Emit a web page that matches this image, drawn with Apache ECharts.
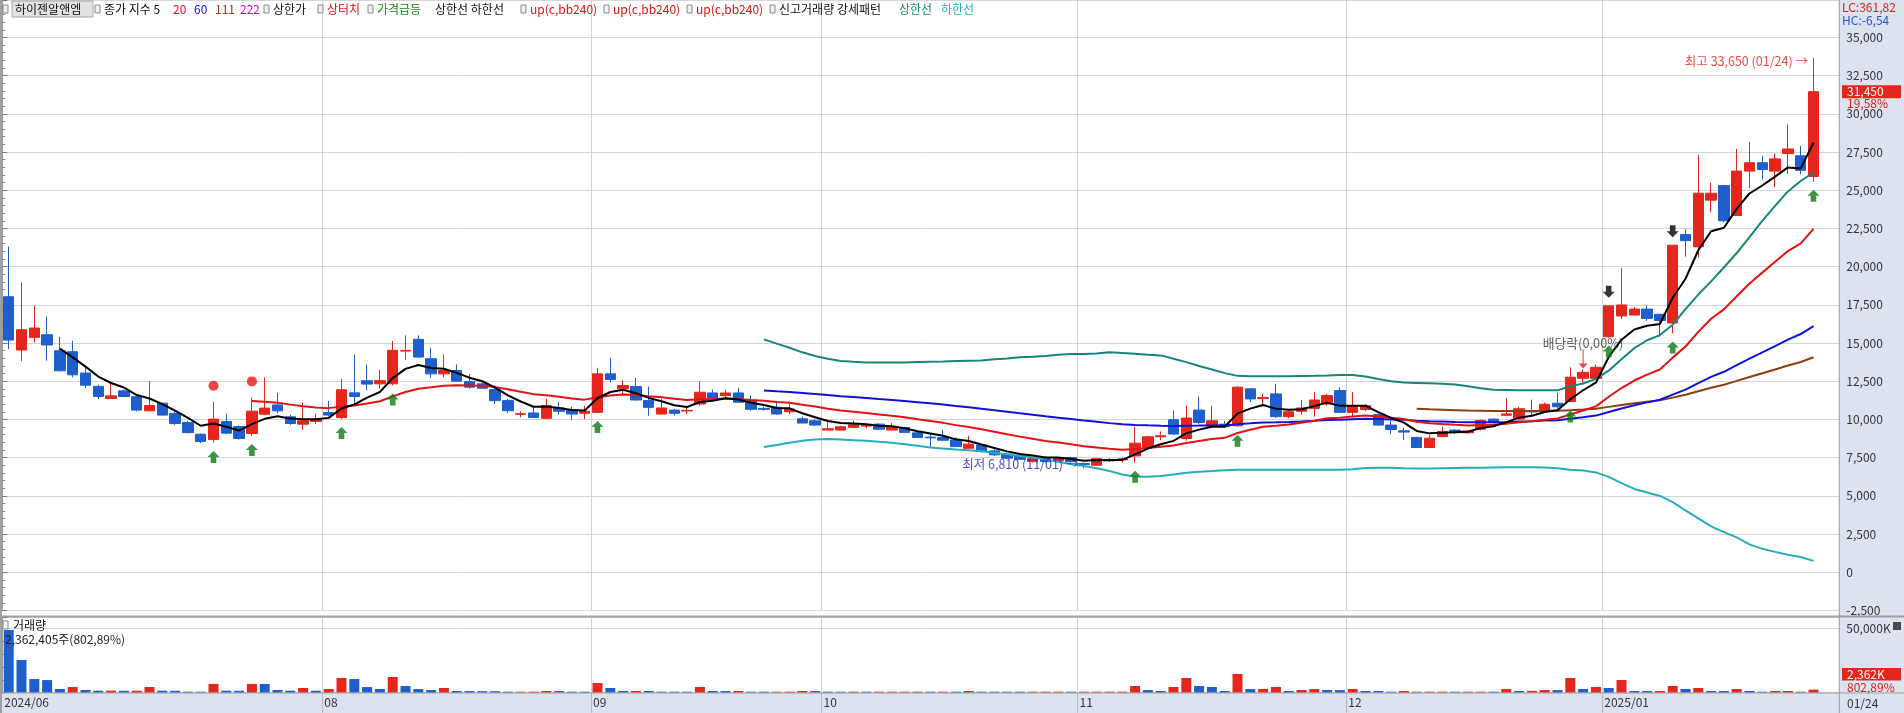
<!DOCTYPE html>
<html><head><meta charset="utf-8">
<script src="https://cdn.jsdelivr.net/npm/echarts@6/dist/echarts.min.js"></script>
<style>html,body{margin:0;padding:0;background:#fff;}#c{width:1904px;height:713px;}</style>
</head><body><div id="c"></div>
<script>
// ---------------- DATA ----------------
const stockName = '하이젠알앤엠';
const tradingDays = {
  '2024/06': [27,28],
  '2024/07': [1,2,3,4,5,8,9,10,11,12,15,16,17,18,19,22,23,24,25,26,29,30,31],
  '2024/08': [1,2,5,6,7,8,9,12,13,14,16,19,20,21,22,23,26,27,28,29,30],
  '2024/09': [2,3,4,5,6,9,10,11,12,13,19,20,23,24,25,26,27,30],
  '2024/10': [2,4,7,8,10,11,14,15,16,17,18,21,22,23,24,25,28,29,30,31],
  '2024/11': [1,4,5,6,7,8,11,12,13,14,15,18,19,20,21,22,25,26,27,28,29],
  '2024/12': [2,3,4,5,6,9,10,11,12,13,16,17,18,19,20,23,24,26,27,30],
  '2025/01': [2,3,6,7,8,9,10,13,14,15,16,17,20,21,22,23,24]
};
const monthLabels = {'2024/06':'2024/06','2024/08':'08','2024/09':'09','2024/10':'10','2024/11':'11','2024/12':'12','2025/01':'2025/01'};
const monthLines = ['2024/08','2024/09','2024/10','2024/11','2024/12','2025/01'];

const opens = [18030,14540,15370,15540,14490,14430,13030,12160,11370,11870,
 11480,10560,11060,10390,9800,9030,8680,9860,9530,9080,
 10340,10950,10170,9690,9860,10450,10120,11740,12530,12330,
 12330,14470,15240,13970,12980,13200,12480,12330,11950,11230,
 10330,10420,10070,10750,10640,10400,10460,12980,12000,12150,
 11230,10350,10610,10550,11010,11730,11560,11730,11250,10720,
 10790,10500,10040,9910,9300,9300,9470,9560,9690,9300,
 9470,9120,8840,8820,8660,8110,8330,7940,7720,7610,
 7240,7500,7280,7500,7110,7000,7370,7350,7610,8160,
 8860,9980,8750,10610,9540,9690,9580,12000,11360,11670,
 10180,10530,10720,11010,11890,10460,10640,10310,9630,9250,
 8820,8160,8880,9300,9120,9360,10020,10270,10020,10580,
 10540,11060,11170,12690,12690,15410,16770,16830,17220,16880,
 16310,22100,21300,24350,25300,23350,26250,26800,26250,27400,
 27250,25900];
const closes = [15190,15870,15980,14870,13180,12920,12240,11500,11540,11500,
 10610,10910,10280,9730,9140,8550,10020,9100,8750,10540,
 10740,10560,9730,9910,10020,10280,11940,11500,12310,12540,
 14520,14520,14080,12980,13200,12500,12110,12040,11230,10570,
 10370,10130,10900,10530,10350,10530,12980,12610,12220,11270,
 10790,10750,10400,10590,11780,11380,11730,11120,10660,10660,
 10350,10680,9760,9630,9390,9520,9650,9610,9360,9520,
 9150,8820,8790,8640,8220,8380,7900,7680,7460,7390,
 7430,7240,7500,7240,7040,7430,7300,7410,8440,8860,
 8930,9040,10090,9800,9910,9520,12110,11340,11430,10180,
 10500,10750,11270,11560,10460,10900,10900,9630,9340,9170,
 8160,8770,9210,9210,9250,9930,9790,10360,10700,10490,
 10990,10830,12760,13080,13410,17430,17490,17220,16610,16470,
 21400,21700,24800,24800,23000,26250,26800,26350,27050,27700,
 26300,31450];
const lows = [14600,13820,15040,13840,13140,12750,12050,11330,11370,11460,
 10520,10540,10280,9640,9080,8460,8460,9030,8680,8920,
 10280,10390,9640,9320,9690,10210,10020,11000,11920,12000,
 12220,13900,14040,12720,12760,12500,12000,12000,11010,10400,
 10130,10130,10020,10310,9980,10020,10420,12430,11560,11230,
 10240,10310,10260,10350,10900,11230,11340,11120,10570,10570,
 10310,10350,9760,9580,9300,9300,9470,9430,9320,9300,
 9120,8820,8160,8600,8200,8110,7830,7610,7430,7370,
 7170,7170,7240,7170,6810,6970,7240,7170,7170,8110,
 8640,8970,8600,9690,9470,9470,9520,11120,11010,10090,
 10070,10310,10180,10900,10460,10130,10530,9580,9040,8640,
 8160,8160,8860,9040,9080,9270,9750,10200,9970,10200,
 10430,10700,11110,12350,12620,15360,16580,16810,16450,15410,
 15630,20650,20600,23550,22900,23300,25150,25700,25200,26050,
 26050,25550];
const highs = [21310,18950,17440,16720,15410,15150,13400,12270,12350,11960,
 11610,12530,11100,10610,9910,9080,11150,10390,9620,11440,
 12750,11740,10300,11110,10390,11220,12660,14230,13580,13250,
 15130,15500,15500,14690,14250,13600,12980,12430,12220,11340,
 10530,10830,11340,11140,10830,10900,13380,14040,12540,12720,
 12150,11340,10680,10830,12500,11950,11950,12060,11560,10830,
 11160,11160,10180,10020,9910,9580,9910,9690,9740,9760,
 9520,9250,9100,9320,8820,8930,8380,8050,7830,7680,
 7500,7570,7540,7540,7170,7460,7460,7500,9520,8930,
 9210,10570,10900,11490,10900,9910,12170,12040,11670,12330,
 10570,11270,11780,11670,12110,11780,11010,10400,9910,9470,
 8860,8970,9520,9360,9300,9980,10050,11380,10830,11290,
 11110,11740,13410,13260,13600,17430,19890,17350,17440,16880,
 21400,22450,27300,25500,25350,27700,28150,27250,27400,29300,
 27900,33650];
// volume in thousand shares
const volumes = [48700,25400,10600,9800,2850,4400,2070,1550,1600,1500,
 1550,4400,1550,1500,520,500,6740,1550,1500,6800,
 6740,2070,1550,3630,1550,2850,11400,10600,4400,2850,
 12200,5180,2850,2070,3630,1300,1250,1200,1150,500,
 520,560,1300,1250,600,500,7500,3630,1300,1350,
 1300,600,550,500,4400,1300,1250,1300,600,550,
 600,650,1300,1250,600,550,600,550,600,650,
 700,750,600,650,600,1300,600,580,560,540,
 600,650,700,600,650,700,750,800,5180,2070,
 1300,4400,11400,5180,4400,1300,14500,2850,2900,4400,
 1300,2070,2850,2070,2000,2850,1300,1290,520,1300,
 520,600,650,520,600,650,520,2850,1300,1400,
 2070,2000,11400,2850,4400,3630,9850,1300,1250,1350,
 5180,2850,3630,1300,1250,2850,1300,520,1300,1350,
 294.236,2362.405];
// band lines (상한선 / 하한선), values from bar 59 onward
const bandStartIndex = 59;
const upperBandVals = [15240,14960,14690,14390,14150,13970,13820,13770,13730,13730,
 13730,13730,13750,13770,13790,13820,13840,13860,13930,13990,
 14060,14100,14150,14230,14280,14280,14320,14390,14350,14300,
 14230,14190,13970,13750,13490,13270,13030,12850,12830,12830,
 12830,12830,12840,12850,12870,12900,12900,12810,12650,12500,
 12410,12390,12370,12330,12280,12170,12040,11940,11920,11900,
 11900,11900,11900,12170,12350,12650,13190,13940,14660,15180,
 15520,16200,17220,18170,19030,19940,20890,21930,22990,23970,
 24920,25600,26160];
const lowerBandVals = [8200,8330,8470,8600,8680,8710,8680,8640,8600,8530,
 8470,8380,8270,8160,8090,8030,7980,7920,7810,7720,
 7610,7500,7370,7220,7060,6950,6800,6620,6400,6270,
 6250,6290,6400,6510,6580,6620,6670,6710,6710,6710,
 6710,6710,6710,6710,6710,6710,6730,6820,6840,6840,
 6800,6780,6780,6800,6820,6840,6830,6850,6870,6870,
 6870,6850,6800,6710,6650,6530,6240,5830,5450,5220,
 4990,4590,4040,3520,3000,2620,2280,1820,1530,1330,
 1140,990,740];
const maPeriods = [5, 20, 60, 111];
const priceSurgeIdx = [16,19,26,30,46,88,96,122,125,130,141];   // 가격급등 (green up arrows)
const upperTouchIdx = [16,19];                                    // 상터치 (red dots)
const limitUpIdx = [125,130];                                     // 상한가 (black arrows)
const exDividendIdx = [123];                                      // 배당락
const yTicksMain = {min:-2500, step:2500, maxLabel:35000};

// ---------------- BUILD ----------------
const dates = [];
Object.entries(tradingDays).forEach(([ym, ds]) => ds.forEach(d => dates.push(ym + '/' + String(d).padStart(2,'0'))));
const edgeCats = dates.concat(['']);
const labelAt = {};
const lineIdx = new Set();
Object.keys(monthLabels).forEach(m => { const i = dates.findIndex(d => d.startsWith(m)); labelAt[i] = monthLabels[m]; });
monthLines.forEach(m => lineIdx.add(dates.findIndex(d => d.startsWith(m))));

const ohlc = dates.map((_, i) => [opens[i], closes[i], lows[i], highs[i]]);
function ema(vals, n) {
  const a = 2 / (n + 1); let e = vals[0];
  return vals.map((v, i) => { if (i > 0) e = e + a * (v - e); return i >= n - 1 ? +e.toFixed(1) : null; });
}
const maLines = maPeriods.map(p => ema(closes, p));
const pad = Array(bandStartIndex).fill(null);
const upperBand = pad.concat(upperBandVals);
const lowerBand = pad.concat(lowerBandVals);

const FONT = '"Noto Sans CJK KR","Noto Sans",sans-serif';
const UP = '#e4261c', DOWN = '#1d5fcc';
const fmt = v => Math.round(v).toLocaleString('en-US');
const fmtDec = v => v.toFixed(2).replace('.', ',');

const maxHigh = Math.max(...highs), maxIdx = highs.indexOf(maxHigh);
const minLow = Math.min(...lows), minIdx = lows.indexOf(minLow);
const md = i => dates[i].slice(5);

const chart = echarts.init(document.getElementById('c'));
const option = {
  animation: false,
  backgroundColor: '#ffffff',
  grid: [
    {left: 2.3, top: 0, width: 1817.6, height: 610.4},
    {left: 2.3, top: 617, width: 1817.6, height: 75.7},
    {left: 2.3, top: 0, width: 1837, height: 610.4},
    {left: 2.3, top: 617, width: 1837, height: 75.7}
  ],
  xAxis: [
    {type: 'category', gridIndex: 0, data: dates, boundaryGap: true, show: false},
    {type: 'category', gridIndex: 0, data: edgeCats, boundaryGap: false,
      axisLine: {show: false}, axisTick: {show: false}, axisLabel: {show: false},
      splitLine: {show: true, interval: i => lineIdx.has(i), lineStyle: {color: '#d0d0d0', width: 1}}},
    {type: 'category', gridIndex: 1, data: dates, boundaryGap: true, show: false},
    {type: 'category', gridIndex: 1, data: edgeCats, boundaryGap: false, position: 'bottom',
      axisLine: {show: false},
      axisTick: {show: true, interval: i => lineIdx.has(i), length: 20, lineStyle: {color: '#b8b8b8'}},
      axisLabel: {interval: i => labelAt[i] !== undefined, formatter: (v, i) => labelAt[i] || '',
        align: 'left', padding: [0, 0, 0, 2], margin: 4, color: '#333', fontSize: 12, fontFamily: FONT},
      splitLine: {show: true, interval: i => lineIdx.has(i), lineStyle: {color: '#d0d0d0', width: 1}}},
    {type: 'value', gridIndex: 2, min: 0, max: 1, show: false},
    {type: 'value', gridIndex: 3, min: 0, max: 1, show: false}
  ],
  yAxis: [
    {type: 'value', gridIndex: 0, min: -2500, max: 37448, show: false},
    {type: 'value', gridIndex: 1, min: 0, max: 58773, show: false},
    {type: 'value', gridIndex: 2, position: 'right', min: yTicksMain.min, max: 37448, interval: yTicksMain.step,
      axisLine: {show: true, lineStyle: {color: '#9c9c9c'}},
      axisTick: {show: true, length: 5, lineStyle: {color: '#777'}},
      minorTick: {show: true, splitNumber: 5, length: 3, lineStyle: {color: '#888'}},
      axisLabel: {margin: 7, color: '#333', fontSize: 12, fontFamily: FONT,
        formatter: v => (v % 2500 === 0 && v <= yTicksMain.maxLabel) ? fmt(v) : ''},
      splitLine: {show: true, lineStyle: {color: '#d6d6d6', width: 1}}},
    {type: 'value', gridIndex: 3, position: 'right', min: 0, max: 58773, interval: 50000,
      axisLine: {show: true, lineStyle: {color: '#9c9c9c'}},
      axisTick: {show: true, length: 5, lineStyle: {color: '#777'}},
      minorTick: {show: true, splitNumber: 5, length: 3, lineStyle: {color: '#888'}},
      axisLabel: {margin: 7, color: '#333', fontSize: 12, fontFamily: FONT,
        formatter: v => v === 50000 ? '50,000K' : ''},
      splitLine: {show: true, lineStyle: {color: '#d6d6d6', width: 1}}}
  ],
  series: [
    {type: 'candlestick', xAxisIndex: 0, yAxisIndex: 0, data: ohlc, barWidth: 11,
      itemStyle: {color: UP, color0: DOWN, borderColor: UP, borderColor0: DOWN, borderWidth: 1}, z: 2},
    {type: 'line', xAxisIndex: 0, yAxisIndex: 0, data: upperBand, symbol: 'none', lineStyle: {color: '#16857b', width: 2}, z: 3},
    {type: 'line', xAxisIndex: 0, yAxisIndex: 0, data: lowerBand, symbol: 'none', lineStyle: {color: '#26adbd', width: 2}, z: 3},
    {type: 'line', xAxisIndex: 0, yAxisIndex: 0, data: maLines[3], symbol: 'none', lineStyle: {color: '#8e3c12', width: 2}, z: 3},
    {type: 'line', xAxisIndex: 0, yAxisIndex: 0, data: maLines[2], symbol: 'none', lineStyle: {color: '#1010dc', width: 2}, z: 3},
    {type: 'line', xAxisIndex: 0, yAxisIndex: 0, data: maLines[1], symbol: 'none', lineStyle: {color: '#e41212', width: 2}, z: 3},
    {type: 'line', xAxisIndex: 0, yAxisIndex: 0, data: maLines[0], symbol: 'none', lineStyle: {color: '#000000', width: 2}, z: 3},
    {type: 'scatter', xAxisIndex: 0, yAxisIndex: 0, data: priceSurgeIdx.map(i => [i, lows[i]]),
      symbol: 'path://M6,0 L12,6 L8.8,6 L8.8,12 L3.2,12 L3.2,6 L0,6 Z', symbolSize: [12, 12], symbolOffset: [0, 14],
      itemStyle: {color: '#0b7c12'}, z: 5},
    {type: 'scatter', xAxisIndex: 0, yAxisIndex: 0, data: upperTouchIdx.map(i => [i, highs[i]]),
      symbol: 'circle', symbolSize: 10, symbolOffset: [0, -16], itemStyle: {color: '#ee1414'}, z: 5},
    {type: 'scatter', xAxisIndex: 0, yAxisIndex: 0, data: limitUpIdx.map(i => [i, highs[i]]),
      symbol: 'path://M3.2,0 L8.8,0 L8.8,6 L12,6 L6,12 L0,6 L3.2,6 Z', symbolSize: [12, 12], symbolOffset: [0, -14],
      itemStyle: {color: '#000'}, z: 5},
    {type: 'scatter', xAxisIndex: 0, yAxisIndex: 0, data: exDividendIdx.map(i => [i, highs[i]]),
      symbol: 'path://M4.4,0 L5.6,0 L5.6,14 L10,14 L5,19 L0,14 L4.4,14 Z', symbolSize: [9, 19], symbolOffset: [0, -10.5],
      itemStyle: {color: '#e81818'}, z: 5,
      label: {show: true, position: 'top', distance: 0, formatter: '배당락(0,00%)', color: '#333', fontSize: 12.8, fontFamily: FONT}},
    {type: 'scatter', xAxisIndex: 0, yAxisIndex: 0, data: [[maxIdx, maxHigh]], symbolSize: 1, itemStyle: {color: 'rgba(0,0,0,0)'}, z: 6,
      label: {show: true, position: 'left', distance: 5, offset: [0, 3], formatter: '최고 ' + fmt(maxHigh) + ' (' + md(maxIdx) + ') →',
        color: '#e0201c', fontSize: 12.5, fontFamily: FONT}},
    {type: 'scatter', xAxisIndex: 0, yAxisIndex: 0, data: [[minIdx, minLow]], symbolSize: 1, itemStyle: {color: 'rgba(0,0,0,0)'}, z: 6,
      label: {show: true, position: 'left', distance: 5, offset: [0, -4], formatter: '최저 ' + fmt(minLow) + ' (' + md(minIdx) + ') →',
        color: '#1c22b4', fontSize: 12.5, fontFamily: FONT}},
    {type: 'bar', xAxisIndex: 2, yAxisIndex: 1, data: volumes, barWidth: 10, barMinHeight: 1,
      itemStyle: {color: p => (p.dataIndex > 0 && volumes[p.dataIndex] > volumes[p.dataIndex - 1]) ? UP : DOWN}}
  ]
};
chart.setOption(option);

// ---------------- OVERLAY TEXT / FRAME ----------------
const n = closes.length;
const lastClose = closes[n - 1], prevClose = closes[n - 2];
const chg = (lastClose / prevClose - 1) * 100;
const volRatio = volumes[n - 1] / volumes[n - 2] * 100;
const yLast = chart.convertToPixel({yAxisIndex: 2}, lastClose);

function T(x, y, text, fill, extra) {
  return Object.assign({type: 'text', z: 20, style: {x: x, y: y, text: text, fill: fill, font: '12px ' + FONT,
    verticalAlign: 'middle', textVerticalAlign: 'middle', align: 'left', textAlign: 'left'}}, extra || {});
}
function icon(x, y) { return {type: 'rect', z: 20, shape: {x: x, y: y, width: 5, height: 8}, style: {fill: '#f0f0f0', stroke: '#8a8a8a', lineWidth: 1}}; }

const g = [
  {type: 'rect', z: -10, shape: {x: 1839.3, y: 0, width: 65, height: 713}, style: {fill: '#dce3ee'}},
  {type: 'rect', z: -10, shape: {x: 0, y: 693, width: 1904, height: 20}, style: {fill: '#dce3ee'}},
  {type: 'line', z: 30, shape: {x1: 1, y1: 0, x2: 1, y2: 713}, style: {stroke: '#a0a0a0', lineWidth: 2}},
  {type: 'line', z: 30, shape: {x1: 0, y1: 616.5, x2: 1904, y2: 616.5}, style: {stroke: '#a0a0a0', lineWidth: 2}},
  {type: 'line', z: 30, shape: {x1: 0, y1: 693, x2: 1904, y2: 693}, style: {stroke: '#a0a0a0', lineWidth: 1}},
  {type: 'line', z: 30, shape: {x1: 1839.3, y1: 0, x2: 1839.3, y2: 713}, style: {stroke: '#9c9c9c', lineWidth: 1}},
  // legend row
  icon(3, 5),
  {type: 'rect', z: 19, shape: {x: 12, y: 1, width: 81, height: 16}, style: {fill: '#e2e2e2', stroke: '#a8a8a8', lineWidth: 1}},
  T(15, 9, stockName, '#111'),
  icon(95, 5), T(104, 9, '종가 지수 5', '#111'), T(173, 9, '20', '#e01010'), T(194, 9, '60', '#1010d0'),
  T(215, 9, '111', '#8e3c12'), T(240, 9, '222', '#c010c0'),
  icon(264, 5), T(273, 9, '상한가', '#111'),
  icon(318, 5), T(327, 9, '상터치', '#e01010'),
  icon(368, 5), T(377, 9, '가격급등', '#108a10'), T(435, 9, '상한선 하한선', '#111'),
  icon(521, 5), T(530, 9, 'up(c,bb240)', '#e01010'),
  icon(604, 5), T(613, 9, 'up(c,bb240)', '#e01010'),
  icon(687, 5), T(696, 9, 'up(c,bb240)', '#e01010'),
  icon(770, 5), T(779, 9, '신고거래량 강세패턴', '#111'), T(899, 9, '상한선', '#16857b'), T(941, 9, '하한선', '#26adbd'),
  // right-top readouts
  T(1842, 7, 'LC:361,82', '#e0201c'), T(1842, 20, 'HC:-6,54', '#2a55c8'),
  // price tag
  {type: 'rect', z: 25, shape: {x: 1842, y: yLast - 6.5, width: 59, height: 13}, style: {fill: '#e4261c'}},
  T(1847, yLast, fmt(lastClose), '#ffffff', {z: 26}),
  T(1847, yLast + 12, fmtDec(chg) + '%', '#e0201c'),
  // volume panel
  icon(3, 621), T(13, 625, '거래량', '#111'),
  T(5, 639, fmt(volumes[n - 1] * 1000) + '주(' + fmtDec(volRatio) + '%)', '#222'),
  {type: 'rect', z: 25, shape: {x: 1893, y: 622, width: 8, height: 8}, style: {fill: '#4a4a4a'}},
  {type: 'rect', z: 25, shape: {x: 1842, y: 668, width: 59, height: 12.5}, style: {fill: '#e4261c'}},
  T(1847, 674.5, fmt(volumes[n - 1]) + 'K', '#ffffff', {z: 26}),
  T(1847, 687, fmtDec(volRatio) + '%', '#e0201c'),
  // last date in axis strip
  T(1847, 703, md(n - 1), '#333')
];
chart.setOption({graphic: g});
</script></body></html>
